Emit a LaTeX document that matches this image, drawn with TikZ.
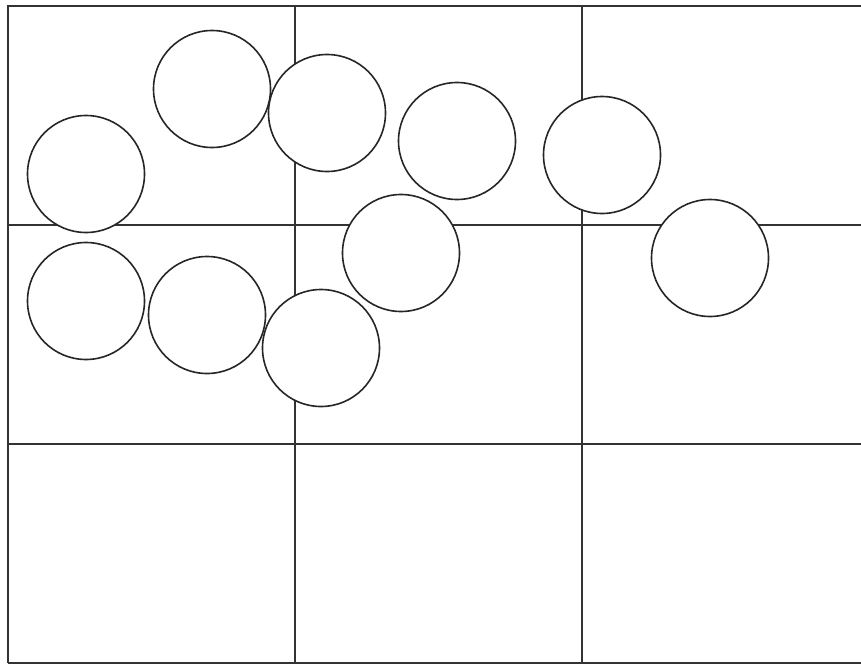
\documentclass[tikz,border=0pt]{standalone}
\usepackage{fontspec}
\setmainfont{Liberation Sans}
\begin{document}
\begin{tikzpicture}[x=1pt,y=-1pt,
  gridline/.style={line width=1.2pt,draw=black!80},
  bubble/.style={circle,draw=black!85,fill=white,line width=1.6pt,minimum size=117pt,inner sep=0pt,
    align=center,font=\fontsize{8}{9}\selectfont,text=white}]
\useasboundingbox (0,0) rectangle (861,664);
\fill[white] (0,0) rectangle (861,664);
% grid
\coordinate (tl) at (8,6);
\coordinate (bl) at (8,663);
\coordinate (tr) at (870,6);
\coordinate (br) at (870,663);
\draw[gridline] (bl) -- (tl) -- (tr);
\draw[gridline] (bl) -- (br);
\coordinate (v1t) at (295,6); \coordinate (v1b) at (295,663);
\coordinate (v2t) at (582,6); \coordinate (v2b) at (582,663);
\coordinate (h1l) at (8,225); \coordinate (h1r) at (870,225);
\coordinate (h2l) at (8,444); \coordinate (h2r) at (870,444);
\draw[gridline] (v1t) -- (v1b);
\draw[gridline] (v2t) -- (v2b);
\draw[gridline] (h1l) -- (h1r);
\draw[gridline] (h2l) -- (h2r);
% bubbles
\node[bubble] (b3) at (86,174) {Ethics};
\node[bubble] (b8) at (86,301) {Analytics};
\node[bubble] (b1) at (212,89) {Tech\\Industry};
\node[bubble] (b2) at (327,113) {NEST\\Data};
\node[bubble] (b4) at (457,141) {ESG};
\node[bubble] (b5) at (602,155) {User\\Interface};
\node[bubble] (b6) at (710,258) {Sample\\Fixture};
\node[bubble] (b7) at (401,253) {Data};
\node[bubble] (b9) at (207,315) {Education};
\node[bubble] (b10) at (321,348) {Risk\\Assessment};
\end{tikzpicture}
\end{document}
